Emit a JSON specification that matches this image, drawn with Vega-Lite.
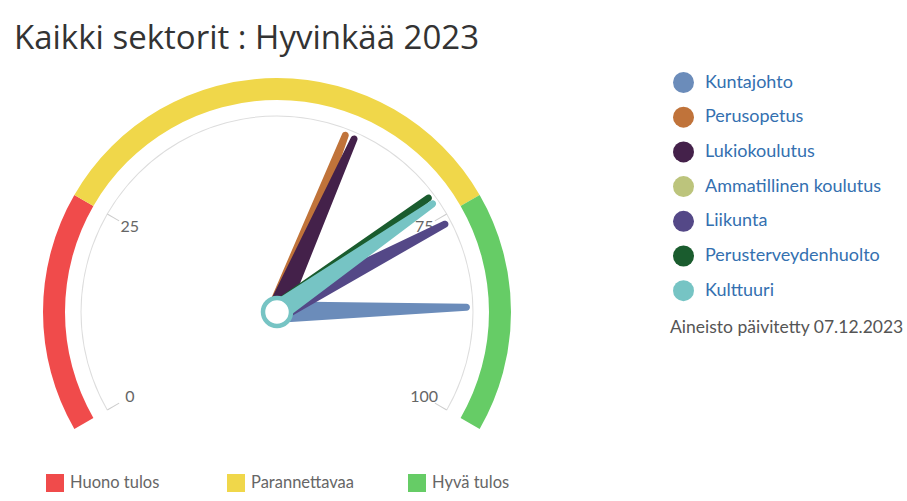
{
  "$schema": "https://vega.github.io/schema/vega-lite/v6.json",
  "width": 554,
  "height": 500,
  "autosize": {"type": "none"},
  "padding": {"left": 0, "top": 62, "right": 353, "bottom": 0},
  "background": "white",
  "config": {"view": {"stroke": null}, "font": "Lato"},
  "title": {
    "text": "Kaikki sektorit : Hyvinkää 2023",
    "anchor": "start",
    "frame": "group",
    "font": "Open Sans",
    "fontSize": 33,
    "fontWeight": "normal",
    "color": "#333333",
    "baseline": "alphabetic",
    "offset": 14,
    "dx": 14,
    "dy": 34
  },
  "datasets": {
    "vyohykkeet": [
      {"nimi": "Huono tulos", "alku": 0, "loppu": 25},
      {"nimi": "Parannettavaa", "alku": 25, "loppu": 75},
      {"nimi": "Hyvä tulos", "alku": 75, "loppu": 100}
    ],
    "tausta": [{"alku": 0, "loppu": 100}],
    "asteikko": [{"arvo": 0}, {"arvo": 25}, {"arvo": 75}, {"arvo": 100}],
    "osoittimet": [
      {"sektori": "Kuntajohto", "arvo": 86.9},
      {"sektori": "Perusopetus", "arvo": 58.8},
      {"sektori": "Lukiokoulutus", "arvo": 60.0},
      {"sektori": "Liikunta", "arvo": 76.0},
      {"sektori": "Perusterveydenhuolto", "arvo": 72.1},
      {"sektori": "Kulttuuri", "arvo": 73.0}
    ],
    "keskio": [{"osa": "keskiö"}]
  },
  "layer": [
    {
      "data": {"name": "vyohykkeet"},
      "mark": {"type": "arc", "radius": 234, "radius2": 212},
      "encoding": {
        "theta": {"field": "alku", "type": "quantitative", "stack": null,
          "scale": {"domain": [0, 100], "range": [-2.0944, 2.0944]}},
        "theta2": {"field": "loppu"},
        "fill": {
          "field": "nimi", "type": "nominal",
          "scale": {"domain": ["Huono tulos", "Parannettavaa", "Hyvä tulos"],
                    "range": ["#f04b4b", "#f0d74a", "#66cc66"]},
          "legend": {
            "orient": "none", "legendX": 46, "legendY": 412,
            "direction": "horizontal", "columns": 3, "title": null,
            "symbolType": "square", "symbolSize": 324, "symbolStrokeWidth": 0,
            "labelFont": "Lato", "labelFontSize": 16.5, "labelColor": "#666666",
            "labelOffset": 6, "columnPadding": 53, "gridAlign": "all", "padding": 0,
            "encode": {"symbols": {"update": {"shape": {"value": "square"}}}}
          }
        }
      }
    },
    {
      "data": {"name": "tausta"},
      "mark": {"type": "arc", "radius": 196.5, "radius2": 195.5, "color": "#dddddd"},
      "encoding": {
        "theta": {"field": "alku", "type": "quantitative", "stack": null},
        "theta2": {"field": "loppu"}
      }
    },
    {
      "data": {"name": "asteikko"},
      "mark": {"type": "point", "shape": "M0,-1L0,-0.93", "filled": false, "color": "#cccccc",
               "strokeWidth": 1, "size": 153664, "opacity": 1},
      "encoding": {
        "angle": {"field": "arvo", "type": "quantitative",
                  "scale": {"domain": [0, 100], "range": [-120, 120]}}
      }
    },
    {
      "data": {"name": "asteikko"},
      "mark": {"type": "text", "radius": 170, "fontSize": 16, "color": "#666666", "font": "Lato",
               "align": "center", "baseline": "middle"},
      "encoding": {
        "theta": {"field": "arvo", "type": "quantitative", "stack": null},
        "text": {"field": "arvo", "type": "quantitative"}
      }
    },
    {
      "data": {"name": "osoittimet"},
      "mark": {"type": "point",
               "shape": "M-0.057,0.03L-0.018,-0.982A0.018,0.018 0 0 1 0.018,-0.982L0.057,0.03Z",
               "filled": true, "size": 148996, "opacity": 1, "strokeWidth": 0},
      "encoding": {
        "angle": {"field": "arvo", "type": "quantitative"},
        "color": {
          "field": "sektori", "type": "nominal",
          "scale": {
            "domain": ["Kuntajohto", "Perusopetus", "Lukiokoulutus", "Ammatillinen koulutus", "Liikunta", "Perusterveydenhuolto", "Kulttuuri"],
            "range": ["#6b8cba", "#c0733a", "#44214a", "#bcc47c", "#544887", "#1a5c2e", "#76c4c4"]
          },
          "legend": {
            "orient": "none", "legendX": 670, "legendY": 10,
            "title": "Aineisto päivitetty 07.12.2023", "titleOrient": "bottom", "titleAnchor": "start",
            "titleFont": "Lato", "titleFontSize": 17.5, "titleFontWeight": "normal", "titleColor": "#555555",
            "titlePadding": 18, "titleLimit": 400,
            "symbolType": "circle", "symbolSize": 441, "symbolOffset": 3, "symbolStrokeWidth": 0,
            "labelFont": "Lato", "labelFontSize": 18, "labelColor": "#3470b0", "labelOffset": 11,
            "rowPadding": 13.7, "padding": 0, "labelLimit": 300,
            "encode": {"symbols": {"update": {"shape": {"value": "circle"}, "size": {"value": 441}}}}
          }
        }
      }
    },
    {
      "data": {"name": "keskio"},
      "mark": {"type": "point", "shape": "circle", "filled": true, "fill": "white", "stroke": "#76c4c4",
               "strokeWidth": 4.5, "size": 784, "opacity": 1},
      "encoding": {}
    }
  ]
}
